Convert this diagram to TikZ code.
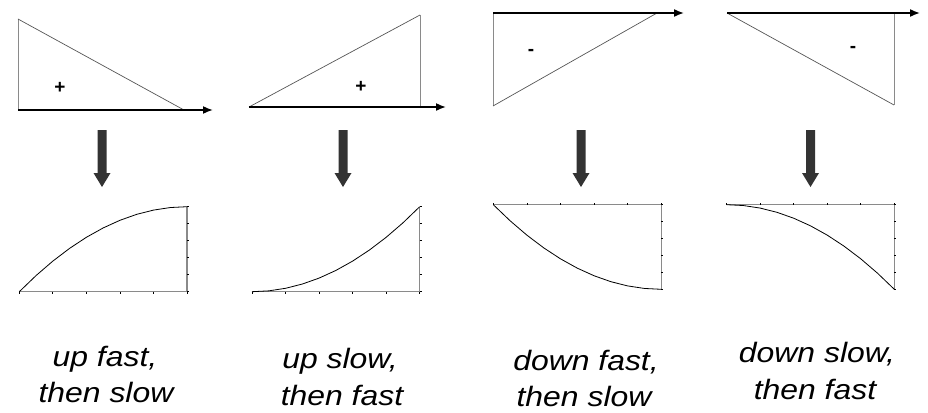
\documentclass[tikz,border=0pt]{standalone}
\usepackage{fontspec}
\setmainfont{Liberation Sans}
\newfontfamily\labfont[FakeStretch=1.14]{Liberation Sans}
\usetikzlibrary{arrows.meta}
\definecolor{arrowgray}{HTML}{333333}
\definecolor{axgray}{HTML}{8A8A8A}
\definecolor{edgegray}{HTML}{555555}
\tikzset{
  axisarrow/.style={line width=1.6pt,-{Latex[length=10pt,width=8pt]}},
  hypo/.style={edgegray,line width=0.7pt},
  vert/.style={axgray,line width=0.9pt},
  sign/.style={font=\fontsize{19}{19}\selectfont\bfseries,inner sep=0pt},
  plotaxis/.style={axgray,line width=1.3pt},
  curve/.style={black,line width=0.8pt},
  tick/.style={black,line width=0.7pt},
  lab/.style={font=\labfont\itshape\fontsize{28}{32}\selectfont,anchor=base,inner sep=0pt},
  bigarrow/.style={fill=arrowgray,draw=none}
}
\begin{document}
\begin{tikzpicture}[x=1pt,y=-1pt]
\useasboundingbox (0,0) rectangle (928,412);
% ---------- top triangles ----------
% panel 1
\coordinate (a1) at (18,19); \coordinate (b1) at (18,110); \coordinate (c1) at (184,110); \coordinate (e1) at (213,110);
\draw[vert] (a1) -- (b1);
\draw[hypo] (a1) -- (c1);
\draw[axisarrow] (b1) -- (e1);
\node[sign] (s1) at (60,88) {+};
% panel 2
\coordinate (a2) at (249,107); \coordinate (b2) at (420,15); \coordinate (c2) at (420,107); \coordinate (e2) at (446,107);
\draw[hypo] (a2) -- (b2);
\draw[vert] (b2) -- (c2);
\draw[axisarrow] (a2) -- (e2);
\node[sign] (s2) at (361,87) {+};
% panel 3
\coordinate (a3) at (493,13); \coordinate (b3) at (493,106); \coordinate (c3) at (657,13); \coordinate (e3) at (684,13);
\draw[vert] (a3) -- (b3);
\draw[hypo] (b3) -- (c3);
\draw[axisarrow] (a3) -- (e3);
\node[sign] (s3) at (531,52) {-};
% panel 4
\coordinate (a4) at (727,13); \coordinate (b4) at (894,105); \coordinate (c4) at (894,13); \coordinate (e4) at (920,13);
\draw[hypo] (a4) -- (b4);
\draw[vert] (c4) -- (b4);
\draw[axisarrow] (a4) -- (e4);
\node[sign] (s4) at (853,49) {-};
% ---------- big down arrows ----------
\foreach \cx in {102,343,581,810.5}{
  \fill[bigarrow] (\cx-4.5,130) -- (\cx+4.5,130) -- (\cx+4.5,173) -- (\cx+8.5,173)
    -- (\cx,187) -- (\cx-8.5,173) -- (\cx-4.5,173) -- cycle;
}
% ---------- bottom plots ----------
% plot 1: up fast then slow
\def\xa{19.3}\def\xb{187}\def\yt{206.7}\def\yb{291.7}
\draw[plotaxis] (\xa,\yb) -- (\xb,\yb) -- (\xb,\yt);
\foreach \i in {0,...,5}{
  \draw[tick] ({\xa+\i*(\xb-\xa)/5},\yb) -- ++(0,1.8);
  \draw[tick] (\xb,{\yb-\i*(\yb-\yt)/5}) -- ++(1.8,0);
}
\draw[curve] plot[domain=0:1,samples=11] ({\xa+\x*(\xb-\xa)},{\yb-(\yb-\yt)*(1-(1-\x)*(1-\x))});
% plot 2: up slow then fast
\def\xa{252}\def\xb{419.7}\def\yt{206.7}\def\yb{291.7}
\draw[plotaxis] (\xa,\yb) -- (\xb,\yb) -- (\xb,\yt);
\foreach \i in {0,...,5}{
  \draw[tick] ({\xa+\i*(\xb-\xa)/5},\yb) -- ++(0,1.8);
  \draw[tick] (\xb,{\yb-\i*(\yb-\yt)/5}) -- ++(1.8,0);
}
\draw[curve] plot[domain=0:1,samples=11] ({\xa+\x*(\xb-\xa)},{\yb-(\yb-\yt)*\x*\x});
% plot 3: down fast then slow
\def\xa{493.3}\def\xb{661.3}\def\yt{204.7}\def\yb{289.3}
\draw[plotaxis] (\xa,\yt) -- (\xb,\yt) -- (\xb,\yb);
\foreach \i in {0,...,5}{
  \draw[tick] ({\xa+\i*(\xb-\xa)/5},\yt) -- ++(0,-1.8);
  \draw[tick] (\xb,{\yt+\i*(\yb-\yt)/5}) -- ++(1.8,0);
}
\draw[curve] plot[domain=0:1,samples=11] ({\xa+\x*(\xb-\xa)},{\yt+(\yb-\yt)*(1-(1-\x)*(1-\x))});
% plot 4: down slow then fast
\def\xa{726.7}\def\xb{894.3}\def\yt{204.7}\def\yb{289.3}
\draw[plotaxis] (\xa,\yt) -- (\xb,\yt) -- (\xb,\yb);
\foreach \i in {0,...,5}{
  \draw[tick] ({\xa+\i*(\xb-\xa)/5},\yt) -- ++(0,-1.8);
  \draw[tick] (\xb,{\yt+\i*(\yb-\yt)/5}) -- ++(1.8,0);
}
\draw[curve] plot[domain=0:1,samples=11] ({\xa+\x*(\xb-\xa)},{\yt+(\yb-\yt)*\x*\x});
% ---------- captions ----------
\node[lab] (l1a) at (105,366) {up fast,};
\node[lab] (l1b) at (106,402) {then slow};
\node[lab] (l2a) at (340,368) {up slow,};
\node[lab] (l2b) at (342,405) {then fast};
\node[lab] (l3a) at (586,370) {down fast,};
\node[lab] (l3b) at (584,406) {then slow};
\node[lab] (l4a) at (817,362) {down slow,};
\node[lab] (l4b) at (815,399) {then fast};
\end{tikzpicture}
\end{document}
